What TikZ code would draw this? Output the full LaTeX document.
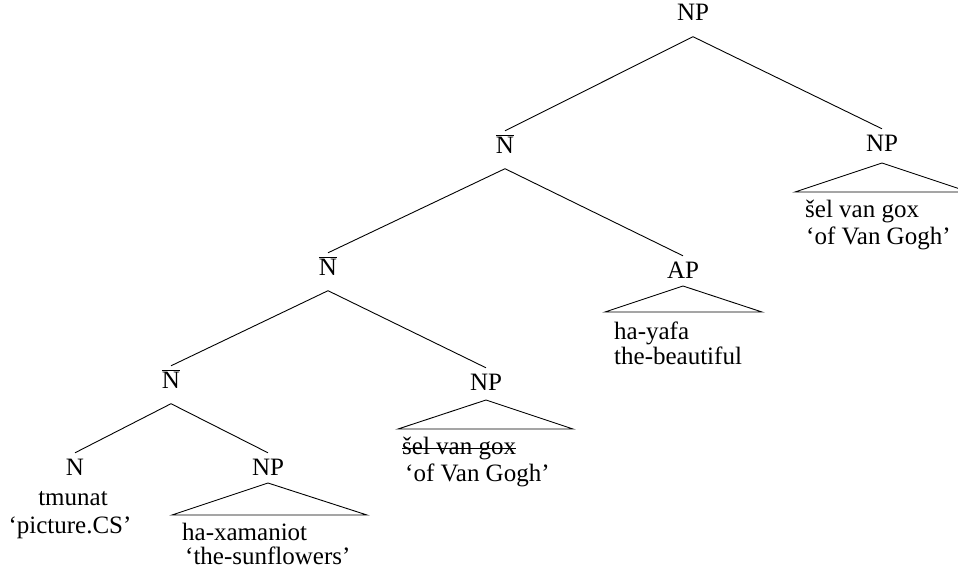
\documentclass[tikz,border=0pt]{standalone}
\usepackage{fontspec}
\setmainfont{Liberation Serif}
\newcommand{\Nbar}{$\overline{\mbox{N}}$}
\begin{document}
\begin{tikzpicture}[x=1pt,y=-1pt,
  font=\fontsize{25}{28}\selectfont,
  cat/.style={anchor=base,inner sep=0pt,text height=22pt,text depth=15.5pt},
  leaf/.style={anchor=base west,inner sep=0pt},
  leafc/.style={anchor=base,inner sep=0pt},
  edge/.style={line width=0.9pt},
  tri/.style={line width=0.9pt}]
\path[use as bounding box] (0,0) rectangle (958,578);
\clip (0,0) rectangle (958,578);
% category nodes
\node[cat] (root) at (693,21) {NP};
\node[cat] (nb1) at (505,153) {\Nbar};
\node[cat] (npr) at (882,151) {NP};
\node[cat] (nb2) at (328,275) {\Nbar};
\node[cat] (ap) at (683,278) {AP};
\node[cat] (nb3) at (171,388) {\Nbar};
\node[cat] (npm) at (486,390) {NP};
\node[cat] (n) at (75,475) {N};
\node[cat] (npl) at (268,475) {NP};
% edges
\draw[edge] (root.south) -- (nb1.north);
\draw[edge] (root.south) -- (npr.north);
\draw[edge] (nb1.south) -- (nb2.north);
\draw[edge] (nb1.south) -- (ap.north);
\draw[edge] (nb2.south) -- (nb3.north);
\draw[edge] (nb2.south) -- (npm.north);
\draw[edge] (nb3.south) -- (n.north);
\draw[edge] (nb3.south) -- (npl.north);
% triangles
\coordinate (tr1a) at (882,163); \coordinate (tr1l) at (795,192); \coordinate (tr1r) at (969,192);
\draw[tri] (tr1a) -- (tr1l) -- (tr1r) -- cycle;
\coordinate (tr2a) at (683,286); \coordinate (tr2l) at (605,312); \coordinate (tr2r) at (762,312);
\draw[tri] (tr2a) -- (tr2l) -- (tr2r) -- cycle;
\coordinate (tr3a) at (486,400); \coordinate (tr3l) at (398,429); \coordinate (tr3r) at (573,429);
\draw[tri] (tr3a) -- (tr3l) -- (tr3r) -- cycle;
\coordinate (tr4a) at (268,483); \coordinate (tr4l) at (172,515); \coordinate (tr4r) at (367,515);
\draw[tri] (tr4a) -- (tr4l) -- (tr4r) -- cycle;
% leaves
\node[leaf] (l1a) at (805,217) {šel van gox};
\node[leaf] (l1b) at (806,244) {‘of Van Gogh’};
\node[leaf] (l2a) at (614,339) {ha-yafa};
\node[leaf] (l2b) at (614,364) {the-beautiful};
\node[leaf] (l3a) at (402,454) {šel van gox};
\draw[line width=0.9pt] ([yshift=6pt]l3a.base west) -- ([yshift=6pt]l3a.base east);
\node[leaf] (l3b) at (405,481) {‘of Van Gogh’};
\node[leaf] (l4a) at (182,540) {ha-xamaniot};
\node[leaf] (l4b) at (185,564) {‘the-sunflowers’};
\node[leafc] (l5a) at (73,505) {tmunat};
\node[leafc] (l5b) at (70,533) {‘picture.CS’};
\end{tikzpicture}
\end{document}
